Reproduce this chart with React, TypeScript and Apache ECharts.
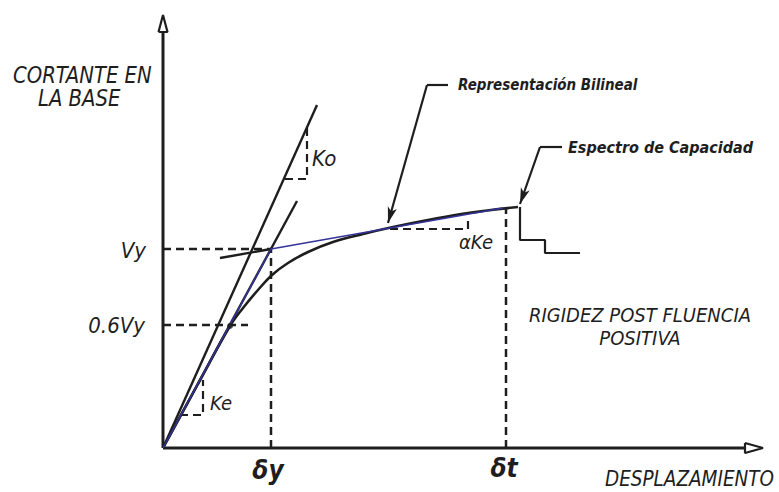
import React, { useEffect, useRef } from "react";
import * as echarts from "echarts";

// Data units: displacement (x) and base shear (y), origin at 0
const capacityCurve: number[][] = [
  [0, 0], [35, 64], [67, 122], [80, 140], [95, 158], [109, 173], [125, 185],
  [145, 196], [170, 206], [200, 214], [230, 221], [265, 228], [305, 235], [355, 241],
];
const bilinear: number[][] = [[0, 0], [108, 199], [340, 240]];
const koLine: number[][] = [[0, 0], [154, 343]];
const keLine: number[][] = [[0, 0], [134, 247]];
const postYieldExt: number[][] = [[57, 190], [108, 199]];
const vyGuide: number[][] = [[0, 199], [108, 199]];
const vy06Guide: number[][] = [[0, 123], [85, 123]];
const dyGuide: number[][] = [[108, 0], [108, 199]];
const dtGuide: number[][] = [[343, 0], [343, 240]];
const koTriangle: number[][] = [[122, 269], [144, 269], [144, 320]];
const keTriangle: number[][] = [[17, 33], [40, 33], [40, 68]];
const akeTriangle: number[][] = [[227, 219], [305, 219], [305, 230]];
const point06Vy: number[][] = [[67, 122]];
const breakStep: number[][] = [[357, 241], [357, 208], [382, 208], [382, 195], [417, 195]];
const yAxisShaft: number[][] = [[0, 0], [0, 416]];
const yAxisHead: number[][] = [[-4.5, 416], [0, 433], [4.5, 416], [-4.5, 416]];
const xAxisShaft: number[][] = [[0, 0], [582, 0]];
const xAxisHead: number[][] = [[582, 5], [600, 0], [582, -5], [582, 5]];
const bilinealLeader: number[][] = [[285, 363], [264, 363]];
const bilinealArrow: number[][] = [[264, 363], [225, 225]];
const espectroLeader: number[][] = [[399, 301], [377, 301]];
const espectroArrow: number[][] = [[377, 301], [357, 244]];

const INK = "#1e1e1e";
const BLUE = "#33339a";
const FONT = "'DejaVu Sans Condensed', 'Liberation Sans Narrow', 'DejaVu Sans', sans-serif";

function lineSeries(data: number[][], width: number, color = INK, dashed = false, z = 2, smooth: boolean | number = false) {
  return {
    type: "line",
    data,
    symbol: "none",
    smooth,
    z,
    lineStyle: { color, width, type: dashed ? [8, 5] : "solid", cap: "butt" },
    silent: true,
  };
}

function arrowSeries(seg: number[][]) {
  return {
    type: "line",
    data: [],
    silent: true,
    markLine: {
      silent: true,
      symbol: ["none", "arrow"],
      symbolSize: [7, 16],
      lineStyle: { color: INK, width: 2.2, type: "solid" },
      label: { show: false },
      data: [[{ coord: seg[0] }, { coord: seg[1] }]],
    },
  };
}

function txt(
  text: string, x: number, y: number, size: number, align = "left",
  weight = "normal", style = "italic", scaleX = 1
) {
  return {
    type: "text",
    x,
    y,
    scaleX,
    silent: true,
    style: {
      text,
      fill: INK,
      font: `${style} ${weight} ${size}px ${FONT}`,
      align,
      verticalAlign: "middle",
    },
  };
}

export default function App() {
  const ref = useRef<HTMLDivElement>(null);
  useEffect(() => {
    if (!ref.current) return;
    const chart = echarts.init(ref.current, undefined, { renderer: "svg" });
    chart.setOption({
      animation: false,
      backgroundColor: "#ffffff",
      grid: { left: 0, right: 0, top: 0, bottom: 0 },
      xAxis: { type: "value", min: -163, max: 616, show: false },
      yAxis: { type: "value", min: -44, max: 448, show: false },
      series: [
        lineSeries(yAxisShaft, 3),
        lineSeries(yAxisHead, 2.2),
        lineSeries(xAxisShaft, 3),
        lineSeries(xAxisHead, 2.2),
        lineSeries(vyGuide, 2.5, INK, true),
        lineSeries(vy06Guide, 2.5, INK, true),
        lineSeries(dyGuide, 2.5, INK, true),
        lineSeries(dtGuide, 2.5, INK, true),
        lineSeries(koTriangle, 2.2, INK, true),
        lineSeries(keTriangle, 2.2, INK, true),
        lineSeries(akeTriangle, 2.2, INK, true),
        lineSeries(koLine, 2.4),
        lineSeries(keLine, 2.4),
        lineSeries(postYieldExt, 2.4),
        lineSeries(capacityCurve, 2.6, INK, false, 3, 0.4),
        lineSeries(bilinear, 1.5, BLUE, false, 4),
        lineSeries(breakStep, 2.2),
        lineSeries(bilinealLeader, 2.2),
        lineSeries(espectroLeader, 2.2),
        arrowSeries(bilinealArrow),
        arrowSeries(espectroArrow),
        {
          type: "scatter",
          data: point06Vy,
          symbolSize: 6,
          itemStyle: { color: INK },
          silent: true,
          z: 5,
        },
      ],
      graphic: [
        txt("CORTANTE EN", 13, 75, 23, "left", "normal", "italic", 0.95),
        txt("LA BASE", 38, 98, 23, "left", "normal", "italic", 0.95),
        txt("Vy", 146, 250, 22, "right"),
        txt("0.6Vy", 145, 325, 22, "right"),
        txt("Ko", 312, 158, 22),
        txt("Ke", 210, 403, 20),
        txt("αKe", 476, 242, 20, "center"),
        txt("δy", 268, 470, 26, "center", "bold", "italic"),
        txt("δt", 504, 468, 26, "center", "bold", "italic"),
        txt("DESPLAZAMIENTO", 605, 478, 22, "left", "normal", "italic", 0.93),
        txt("RIGIDEZ POST FLUENCIA", 640, 315, 20, "center"),
        txt("POSITIVA", 640, 338, 20, "center"),
        txt("Representación Bilineal", 458, 85, 15, "left", "bold"),
        txt("Espectro de Capacidad", 568, 147, 16, "left", "bold"),
      ],
    });
    return () => chart.dispose();
  }, []);
  return (
    <div
      ref={ref}
      style={{ position: "fixed", left: 0, top: 0, width: 779, height: 492, background: "#fff" }}
    />
  );
}
